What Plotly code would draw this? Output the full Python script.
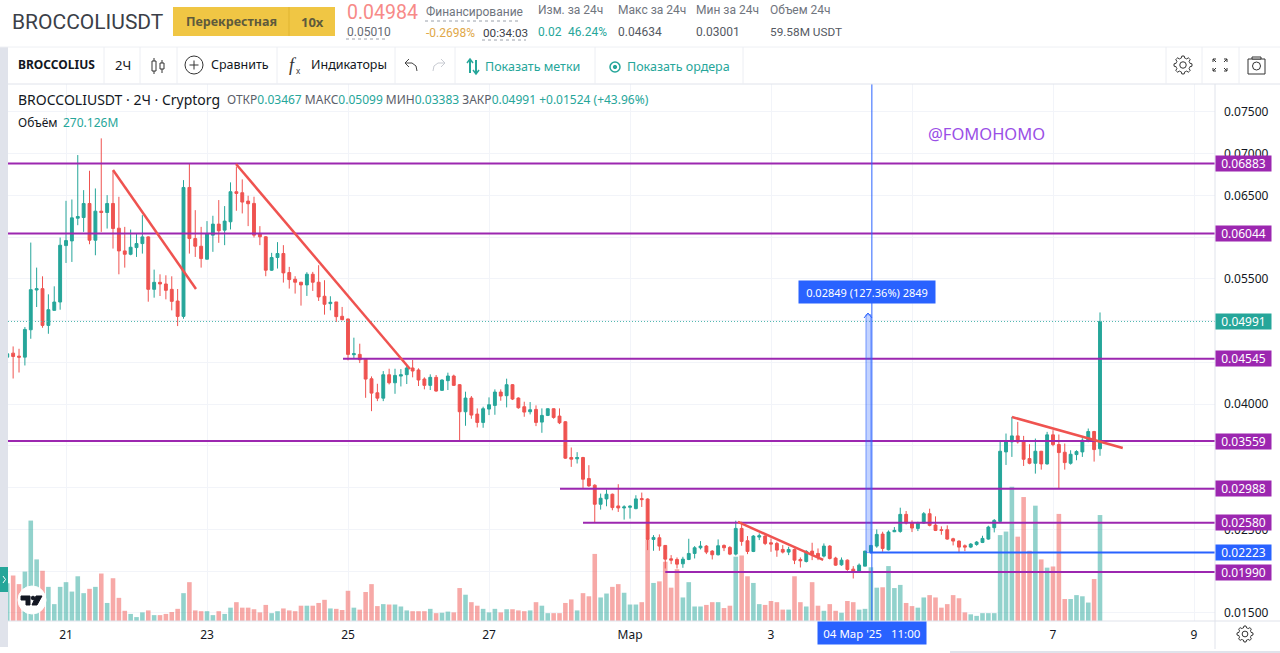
import math
import pandas as pd
import plotly.graph_objects as go

# ---------- data ----------
START = "2025-02-20 04:00"
open_ = [
0.04564,0.04612,0.04576,0.04564,0.04892,0.05368,0.05384,0.04944,0.05124,0.05224,
0.05900,0.05956,0.06228,0.06236,0.06404,0.05964,0.06312,0.06296,0.06404,0.06108,
0.05836,0.05796,0.05876,0.05924,0.06004,0.05376,0.05460,0.05440,0.05376,0.05236,
0.05052,0.06596,0.05984,0.05892,0.05737,0.06025,0.06157,0.06085,0.06185,0.06545,
0.06533,0.06433,0.06405,0.06045,0.06005,0.05605,0.05757,0.05805,0.05577,0.05497,
0.05461,0.05429,0.05557,0.05461,0.05293,0.05205,0.05225,0.05053,0.05021,0.04593,
0.04597,0.04545,0.04305,0.04137,0.04073,0.04353,0.04257,0.04337,0.04354,0.04434,
0.04410,0.04302,0.04226,0.04322,0.04166,0.04282,0.04338,0.04234,0.03910,0.04074,
0.03882,0.03782,0.03942,0.03986,0.04146,0.04102,0.04234,0.04074,0.03970,0.03910,
0.03938,0.03786,0.03866,0.03946,0.03858,0.03790,0.03362,0.03346,0.03362,0.03110,
0.03030,0.02802,0.02866,0.02922,0.02782,0.02758,0.02766,0.02750,0.02870,0.02865,
0.02381,0.02401,0.02309,0.02149,0.02141,0.02089,0.02141,0.02213,0.02281,0.02301,
0.02241,0.02197,0.02309,0.02285,0.02205,0.02513,0.02365,0.02237,0.02409,0.02421,
0.02341,0.02333,0.02261,0.02229,0.02261,0.02141,0.02117,0.02241,0.02213,0.02181,
0.02301,0.02157,0.02077,0.02133,0.02025,0.02001,0.02061,0.02229,0.02301,0.02445,
0.02257,0.02473,0.02477,0.02681,0.02581,0.02513,0.02577,0.02689,0.02553,0.02497,
0.02497,0.02389,0.02361,0.02305,0.02289,0.02321,0.02345,0.02385,0.02521,0.02597,
0.03429,0.03549,0.03621,0.03557,0.03349,0.03293,0.03437,0.03285,0.03633,0.03517,
0.03425,0.03293,0.03397,0.03429,0.03561,0.03673,0.03467]
high = [
0.04624,0.04692,0.04664,0.04924,0.05936,0.05636,0.05532,0.05316,0.05412,0.05996,
0.06436,0.06452,0.06984,0.06564,0.06796,0.06584,0.07184,0.06504,0.06796,0.06484,
0.06124,0.06092,0.06044,0.06264,0.06012,0.05612,0.05556,0.05544,0.05532,0.05380,
0.06684,0.06884,0.06324,0.06124,0.06193,0.06257,0.06445,0.06373,0.06657,0.06845,
0.06693,0.06497,0.06485,0.06133,0.06013,0.05813,0.05941,0.05905,0.05645,0.05533,
0.05465,0.05581,0.05585,0.05665,0.05485,0.05293,0.05225,0.05165,0.05025,0.04797,
0.04725,0.04545,0.04333,0.04245,0.04397,0.04425,0.04425,0.04421,0.04470,0.04530,
0.04430,0.04322,0.04358,0.04350,0.04298,0.04378,0.04354,0.04242,0.04150,0.04098,
0.03950,0.03970,0.04082,0.04178,0.04178,0.04306,0.04242,0.04082,0.04030,0.04026,
0.03986,0.03950,0.03950,0.03950,0.03950,0.03798,0.03482,0.03426,0.03370,0.03270,
0.03042,0.02930,0.02978,0.02930,0.03042,0.02790,0.02790,0.02910,0.02942,0.02873,
0.02433,0.02441,0.02313,0.02193,0.02165,0.02173,0.02389,0.02301,0.02361,0.02313,
0.02253,0.02381,0.02321,0.02301,0.02605,0.02593,0.02421,0.02433,0.02453,0.02433,
0.02393,0.02353,0.02313,0.02293,0.02273,0.02165,0.02253,0.02341,0.02273,0.02333,
0.02313,0.02173,0.02165,0.02141,0.02061,0.02093,0.02245,0.02313,0.02501,0.02473,
0.02489,0.02529,0.02761,0.02721,0.02609,0.02593,0.02709,0.02749,0.02657,0.02537,
0.02549,0.02401,0.02369,0.02321,0.02337,0.02361,0.02425,0.02545,0.02625,0.03569,
0.03649,0.03849,0.03789,0.03621,0.03521,0.03589,0.03441,0.03669,0.03689,0.03637,
0.03529,0.03449,0.03449,0.03593,0.03709,0.03681,0.05099]
low = [
0.04524,0.04308,0.04380,0.04464,0.04784,0.05164,0.04916,0.04844,0.05124,0.05132,
0.05692,0.05704,0.06144,0.06064,0.05916,0.05784,0.06064,0.06104,0.05864,0.05556,
0.05636,0.05784,0.05764,0.05804,0.05228,0.05276,0.05296,0.05256,0.05124,0.04936,
0.05024,0.05804,0.05764,0.05636,0.05737,0.05825,0.05933,0.05905,0.06093,0.06317,
0.06285,0.06133,0.05997,0.05905,0.05533,0.05597,0.05625,0.05457,0.05385,0.05325,
0.05181,0.05297,0.05357,0.05237,0.05073,0.05125,0.04985,0.05005,0.04525,0.04545,
0.04493,0.04077,0.03917,0.04037,0.04037,0.04237,0.04125,0.04213,0.04242,0.04322,
0.04218,0.04178,0.04170,0.04150,0.04162,0.04170,0.04218,0.03570,0.03742,0.03826,
0.03722,0.03718,0.03870,0.03874,0.04042,0.03962,0.04050,0.03946,0.03850,0.03878,
0.03738,0.03658,0.03858,0.03826,0.03762,0.03346,0.03250,0.03290,0.02990,0.03010,
0.02582,0.02738,0.02778,0.02730,0.02710,0.02618,0.02630,0.02742,0.02770,0.02253,
0.02245,0.02245,0.02033,0.02085,0.02033,0.02041,0.02133,0.02153,0.02261,0.02205,
0.02141,0.02189,0.02241,0.02193,0.02189,0.02305,0.02205,0.02229,0.02373,0.02313,
0.02233,0.02173,0.02213,0.02193,0.02085,0.02045,0.02105,0.02133,0.02133,0.02165,
0.02141,0.02065,0.02065,0.02005,0.01913,0.01993,0.02061,0.02213,0.02281,0.02233,
0.02249,0.02469,0.02461,0.02561,0.02469,0.02481,0.02569,0.02537,0.02481,0.02437,
0.02377,0.02309,0.02221,0.02241,0.02277,0.02305,0.02337,0.02377,0.02465,0.02589,
0.03273,0.03369,0.03529,0.03261,0.03281,0.03169,0.03217,0.03277,0.03497,0.02989,
0.03217,0.03277,0.03329,0.03369,0.03545,0.03313,0.03383]
close = [
0.04604,0.04572,0.04564,0.04896,0.05372,0.05384,0.04944,0.05132,0.05224,0.05904,
0.05960,0.06232,0.06248,0.06404,0.05964,0.06312,0.06296,0.06404,0.06104,0.05836,
0.05796,0.05880,0.05924,0.06004,0.05376,0.05460,0.05440,0.05364,0.05232,0.05052,
0.06596,0.05984,0.05892,0.05744,0.06045,0.06157,0.06077,0.06193,0.06545,0.06525,
0.06421,0.06401,0.06025,0.06005,0.05605,0.05757,0.05805,0.05573,0.05493,0.05461,
0.05429,0.05557,0.05461,0.05285,0.05197,0.05221,0.05049,0.05013,0.04597,0.04605,
0.04533,0.04301,0.04133,0.04073,0.04353,0.04257,0.04345,0.04353,0.04434,0.04398,
0.04290,0.04226,0.04322,0.04158,0.04290,0.04338,0.04226,0.03910,0.04074,0.03870,
0.03782,0.03946,0.03994,0.04146,0.04098,0.04234,0.04062,0.03958,0.03906,0.03934,
0.03782,0.03866,0.03946,0.03842,0.03778,0.03354,0.03342,0.03362,0.03102,0.03022,
0.02802,0.02874,0.02922,0.02762,0.02758,0.02770,0.02778,0.02866,0.02858,0.02381,
0.02405,0.02301,0.02145,0.02133,0.02085,0.02145,0.02213,0.02281,0.02301,0.02229,
0.02197,0.02305,0.02281,0.02205,0.02513,0.02357,0.02237,0.02421,0.02425,0.02333,
0.02325,0.02253,0.02229,0.02261,0.02133,0.02125,0.02237,0.02205,0.02173,0.02301,
0.02153,0.02073,0.02133,0.02021,0.01993,0.02073,0.02241,0.02309,0.02441,0.02273,
0.02469,0.02489,0.02681,0.02577,0.02517,0.02577,0.02689,0.02549,0.02489,0.02489,
0.02385,0.02361,0.02289,0.02289,0.02325,0.02349,0.02393,0.02529,0.02609,0.03437,
0.03557,0.03621,0.03549,0.03341,0.03293,0.03437,0.03285,0.03633,0.03517,0.03421,
0.03301,0.03401,0.03433,0.03569,0.03673,0.03457,0.04991]
volume_m = [
96,116,94,126,256,157,128,87,43,87,
99,75,114,71,82,87,121,46,109,59,
26,18,10,22,27,15,15,18,23,31,
71,99,27,25,25,15,25,18,34,48,
34,34,30,22,41,20,25,32,27,25,
39,39,39,46,54,32,31,28,77,34,
29,74,94,38,43,42,42,37,27,25,
25,25,31,20,21,24,22,84,67,48,
39,31,22,31,22,30,30,27,25,27,
48,39,20,20,20,46,55,27,71,63,
171,60,70,87,94,72,42,42,48,207,
97,101,151,85,132,60,99,37,37,41,
48,48,33,39,164,167,114,97,43,41,
51,48,29,29,114,48,37,99,39,26,
43,26,21,51,48,29,31,137,85,86,
140,84,92,46,38,34,60,66,60,34,
43,66,58,22,17,13,20,20,20,219,
228,342,215,316,179,294,157,136,139,273,
56,56,66,63,47,107,270.126]

# horizontal levels: (price, first time drawn)
level_prices = [0.06883, 0.06044, 0.04545, 0.03559, 0.02988, 0.02580, 0.01990]
level_starts = ["2025-02-20 04:15", "2025-02-20 04:15", "2025-02-24 22:18", "2025-02-20 04:15",
                "2025-02-28 00:10", "2025-02-28 08:00", "2025-03-01 12:00"]
blue_level = 0.02223
blue_level_start = "2025-03-04 09:36"
last_price = 0.04991

trend_x = [["2025-02-21 16:00", "2025-02-22 20:15"],
           ["2025-02-23 09:52", "2025-02-25 21:06"],
           ["2025-03-02 12:46", "2025-03-03 17:46"],
           ["2025-03-06 10:02", "2025-03-07 23:45"]]
trend_y = [[0.06805, 0.05380], [0.06877, 0.04422], [0.02590, 0.02135], [0.03847, 0.03476]]

measure_x = ["2025-03-04 08:20", "2025-03-04 10:00"]
measure_y = [0.02223, 0.05072]
cross_x = "2025-03-04 10:20"

# grid positions; labels hidden in the reference by the price and date tags stay blank
x_tickvals = ["2025-02-21", "2025-02-23", "2025-02-25", "2025-02-27", "2025-03-01",
              "2025-03-03", "2025-03-05", "2025-03-07", "2025-03-09"]
x_ticktext = ["21", "23", "25", "27", "Мар", "3", "", "7", "9"]
y_tickvals = [0.015, 0.02, 0.025, 0.03, 0.035, 0.04, 0.045, 0.05, 0.055, 0.06, 0.065, 0.07, 0.075]
y_ticktext = ["0.01500", "", "0.02500", "", "", "0.04000", "", "", "0.05500", "", "0.06500", "0.07000", "0.07500"]

X_RANGE = ["2025-02-20 04:15", "2025-03-09 07:09"]
PRICE_RANGE = [0.01404, 0.07835]
VOL_RANGE = [0, 1369]

# ---------- styling ----------
W, H = 1280, 653
GREEN, RED, PURPLE, BLUE = "#26a69a", "#ef5350", "#9c27b0", "#2962ff"
GRID = "#f2f4f9"
BORDER = "#e0e3eb"
UI = "Noto Sans"
HEAD = "Roboto"

dates = pd.date_range(START, periods=len(close), freq="2h")
assert len(open_) == len(high) == len(low) == len(close) == len(volume_m)

fig = go.Figure()
fig.add_trace(go.Bar(
    x=dates, y=volume_m, yaxis="y", xaxis="x", hoverinfo="skip", showlegend=False,
    marker=dict(color=[GREEN if c >= o else RED for o, c in zip(open_, close)], line_width=0, opacity=0.5),
))
fig.add_trace(go.Scatter(
    x=X_RANGE, y=[last_price, last_price], yaxis="y2", mode="lines", hoverinfo="skip", showlegend=False,
    line=dict(color="#4fb8ae", width=1, dash="1px 2px"),
))
fig.add_trace(go.Candlestick(
    x=dates, open=open_, high=high, low=low, close=close, yaxis="y2", hoverinfo="skip", showlegend=False,
    increasing=dict(line=dict(color=GREEN, width=1), fillcolor=GREEN),
    decreasing=dict(line=dict(color=RED, width=1), fillcolor=RED),
    whiskerwidth=0,
))
for p, s in zip(level_prices, level_starts):
    fig.add_trace(go.Scatter(x=[s, X_RANGE[1]], y=[p, p], yaxis="y2", mode="lines", hoverinfo="skip",
                             showlegend=False, line=dict(color=PURPLE, width=2)))
fig.add_trace(go.Scatter(x=[blue_level_start, X_RANGE[1]], y=[blue_level, blue_level], yaxis="y2", mode="lines",
                         hoverinfo="skip", showlegend=False, line=dict(color=BLUE, width=2)))
for tx, ty in zip(trend_x, trend_y):
    fig.add_trace(go.Scatter(x=tx, y=ty, yaxis="y2", mode="lines", hoverinfo="skip", showlegend=False,
                             line=dict(color=RED, width=2.5)))
fig.add_trace(go.Scatter(x=[cross_x, cross_x], y=PRICE_RANGE, yaxis="y2", mode="lines", hoverinfo="skip",
                         showlegend=False, line=dict(color=BLUE, width=1)))

shapes, annos = [], []
def px(x): return x / W
def py(y): return 1 - y / H
def rect(x0, y0, x1, y1, fill, line=None, lw=1):
    shapes.append(dict(type="rect", xref="paper", yref="paper", x0=px(x0), x1=px(x1), y0=py(y0), y1=py(y1),
                       fillcolor=fill, line=dict(color=line or fill, width=lw if line else 0)))
def seg(x0, y0, x1, y1, color=BORDER, lw=1, dash=None):
    shapes.append(dict(type="line", xref="paper", yref="paper", x0=px(x0), x1=px(x1), y0=py(y0), y1=py(y1),
                       line=dict(color=color, width=lw, dash=dash or "solid")))
def circ(cx, cy, r, fill="rgba(0,0,0,0)", line="#333", lw=1):
    shapes.append(dict(type="circle", xref="paper", yref="paper", x0=px(cx - r), x1=px(cx + r), y0=py(cy - r),
                       y1=py(cy + r), fillcolor=fill, line=dict(color=line, width=lw)))
def poly(pts, fill="rgba(0,0,0,0)", line="#333", lw=1, closed=False):
    d = "M " + " L ".join(f"{px(a):.5f} {py(b):.5f}" for a, b in pts) + (" Z" if closed else "")
    shapes.append(dict(type="path", xref="paper", yref="paper", path=d, fillcolor=fill,
                       line=dict(color=line, width=lw)))
def txt(x, y, s, size=12, color="#131722", anchor="left", family=UI, **kw):
    annos.append(dict(xref="paper", yref="paper", x=px(x), y=py(y), text=s, showarrow=False, xanchor=anchor,
                      yanchor="middle", align=anchor,
                      font=dict(size=size, color=color, family=family), borderpad=0, **kw))

# measuring band, in data coordinates
shapes.append(dict(type="rect", xref="x", yref="y2", x0=measure_x[0], x1=measure_x[1], y0=measure_y[0], y1=measure_y[1],
                   fillcolor="rgba(41,98,255,0.28)", line=dict(color="rgba(41,98,255,0.6)", width=1)))
# left grey strip, handle, logo
rect(0, 47, 8, 647, "#e0e3eb")
rect(0, 567, 8, 592, GREEN)
poly([(3, 576), (5.5, 579.5), (3, 583)], line="#ffffff", lw=1)
circ(32, 600, 14, fill="#ffffff", line="#ffffff")
poly([(21, 596), (30, 596), (30, 605), (26, 605), (26, 600), (21, 600)], fill="#131722", line="#131722", closed=True)
circ(33, 598, 1.8, fill="#131722", line="#131722")
poly([(36, 596), (42, 596), (37, 605), (32, 605)], fill="#131722", line="#131722", closed=True)
# arrow on top of the band
poly([(864, 318), (868, 313), (872, 318)], line=BLUE, lw=1)
# frame
seg(8, 84, 1280, 84)
seg(0, 47, 1280, 47, color="#eef0f4")
seg(1215, 84, 1215, 649)
seg(8, 621, 1280, 621)
seg(950, 652, 1280, 652, lw=2)
for x in [104, 140, 177, 277, 395, 455, 595, 743, 1166, 1202, 1239]:
    seg(x, 47, x, 84, color="#eceef3")

# header
txt(11, 22, "BROCCOLIUSDT", 21, "#3b3f48", family=HEAD)
rect(173, 7, 335, 36, "#f0c644")
seg(289, 7, 289, 36, color="#e0b530")
txt(231, 22, "<b>Перекрестная</b>", 12.5, "#5e5a3c", "center")
txt(312, 22, "<b>10х</b>", 13, "#5e5a3c", "center")
txt(346, 13, "0.04984", 19.5, "#f78a88", family=HEAD)
txt(346, 32, "0.05010", 12, "#666a73", family=HEAD)
seg(346, 39, 386, 39, color="#9aa0aa", dash="dot")
txt(425, 12, "Финансирование", 12, "#70757e", family=HEAD)
seg(425, 21, 521, 21, color="#9aa0aa", dash="dot")
txt(425, 33, "-0.2698%", 12, "#e0a748", family=HEAD)
txt(482, 33, "00:34:03", 11.7, "#3d4149", family=HEAD)
seg(482, 40, 526, 40, color="#9aa0aa", dash="dot")
txt(537, 10, "Изм. за 24ч", 12, "#70757e", family=HEAD)
txt(537, 32, "0.02", 12, GREEN, family=HEAD)
txt(567, 32, "46.24%", 12, GREEN, family=HEAD)
txt(617, 10, "Макс за 24ч", 12, "#70757e", family=HEAD)
txt(617, 32, "0.04634", 12, "#555962", family=HEAD)
txt(695, 10, "Мин за 24ч", 12, "#70757e", family=HEAD)
txt(695, 32, "0.03001", 12, "#555962", family=HEAD)
txt(769, 10, "Объем 24ч", 12, "#70757e", family=HEAD)
txt(769, 32, "59.58M USDT", 11.8, "#555962", family=HEAD)

# toolbar
txt(17, 65, "<b>BROCCOLIUS</b>", 12, "#131722")
txt(114, 65, "2Ч", 13, "#131722")
seg(154, 58, 154, 74, lw=1, color="#333")
rect(152, 61, 156, 71, "#ffffff", "#333")
seg(162, 60, 162, 73, lw=1, color="#333")
rect(160, 63, 164, 69, "#ffffff", "#333")
circ(194, 65, 9)
seg(189.5, 65, 198.5, 65, color="#333")
seg(194, 60.5, 194, 69.5, color="#333")
txt(210, 65, "Сравнить", 12.5, "#131722")
txt(288, 65, "<i>f</i>", 18, "#333", family="Liberation Serif")
txt(295, 71, "x", 8, "#333")
txt(310, 65, "Индикаторы", 12.5, "#131722")
poly([(409, 59), (405, 63), (409, 67)], line="#444")
poly([(405, 63), (412, 63), (416, 66), (417, 71)], line="#444")
poly([(441, 59), (445, 63), (441, 67)], line="#c8cbd2")
poly([(445, 63), (438, 63), (434, 66), (433, 71)], line="#c8cbd2")
seg(470, 60, 470, 73, color=GREEN, lw=2)
poly([(467, 63), (470, 59), (473, 63)], line=GREEN, lw=1.5)
seg(476, 60, 476, 73, color=GREEN, lw=2)
poly([(473, 70), (476, 74), (479, 70)], line=GREEN, lw=1.5)
txt(484, 67, "Показать метки", 12.5, GREEN)
circ(615, 67, 5, line=GREEN, lw=1.5)
circ(615, 67, 1.7, fill=GREEN, line=GREEN)
txt(626, 67, "Показать ордера", 12.5, GREEN)

# gear icons
def gear(cx, cy, r, lw=1):
    pts = []
    for k in range(48):
        a = 2 * math.pi * k / 48
        rr = r if (k % 6) in (0, 1, 5) else r * 0.78
        pts.append((cx + rr * math.cos(a), cy + rr * math.sin(a)))
    poly(pts, line="#333", lw=lw, closed=True)
    circ(cx, cy, r * 0.36, line="#333", lw=lw)
gear(1183, 65, 9)
gear(1245, 634, 8)
# fullscreen corners
for sx, sy in [(-1, -1), (1, -1), (-1, 1), (1, 1)]:
    cx, cy = 1220 + sx * 7, 65 + sy * 6
    poly([(cx - sx * 3, cy), (cx, cy), (cx, cy - sy * 3)], line="#333")
    seg(cx, cy, cx - sx * 3, cy - sy * 3, color="#333")
# camera
rect(1248, 59, 1265, 74, "#ffffff", "#333")
rect(1252, 57, 1261, 59, "#ffffff", "#333")
circ(1256.5, 66, 4)

# chart legend
txt(17, 100, "BROCCOLIUSDT · 2Ч · Cryptorg", 14, "#131722")
G = lambda s: f'<span style="color:{GREEN}">{s}</span>'
txt(226, 100, f"ОТКР{G('0.03467')} МАКС{G('0.05099')} МИН{G('0.03383')} ЗАКР{G('0.04991')} {G('+0.01524 (+43.96%)')}", 12, "#5b6069")
txt(17, 122, "Объём", 12, "#131722")
txt(62, 122, "270.126M", 12, GREEN)
txt(927, 133, "@FOMOHOMO", 16.5, "#9a4fe6")

# price tags
def tag(price, color):
    annos.append(dict(xref="paper", yref="y2", x=px(1215), y=price, text="%.5f" % price, showarrow=False,
                      xanchor="left", yanchor="middle", font=dict(size=12, color="#ffffff", family=UI),
                      bgcolor=color, width=55, height=15, align="center", borderpad=0))
for p in level_prices:
    tag(p, PURPLE)
tag(blue_level, BLUE)
tag(last_price, GREEN)

# measure label and crosshair date tag
txt(867, 292, "0.02849 (127.36%) 2849", 11, "#ffffff", "center", bgcolor=BLUE, width=136, height=22)
txt(872, 633, "04 Мар '25&nbsp;&nbsp;&nbsp;11:00", 11.5, "#ffffff", "center", bgcolor=BLUE, width=108, height=22)

fig.update_layout(
    width=W, height=H, autosize=False, margin=dict(l=0, r=0, t=0, b=0),
    paper_bgcolor="#ffffff", plot_bgcolor="#ffffff", showlegend=False, bargap=0.22, boxgap=0.3,
    hovermode=False, shapes=shapes, annotations=annos,
    xaxis=dict(domain=[8 / W, 1215 / W], type="date", range=X_RANGE, tickmode="array", tickvals=x_tickvals,
               ticktext=x_ticktext, showgrid=True, gridcolor=GRID, gridwidth=1, zeroline=False, showline=False,
               ticks="", ticklabelstandoff=5, tickfont=dict(size=12, color="#131722", family=UI),
               rangeslider=dict(visible=False), fixedrange=True),
    yaxis=dict(domain=[(H - 621) / H, (H - 84) / H], range=VOL_RANGE, showgrid=False, showticklabels=False,
               zeroline=False, showline=False, ticks="", fixedrange=True),
    yaxis2=dict(domain=[(H - 621) / H, (H - 84) / H], overlaying="y", side="right", anchor="x", range=PRICE_RANGE,
                tickmode="array", tickvals=y_tickvals, ticktext=y_ticktext, showgrid=True, gridcolor=GRID,
                gridwidth=1, zeroline=False, showline=False, ticks="", ticklabelstandoff=8,
                tickfont=dict(size=12, color="#131722", family=UI), fixedrange=True),
)

fig.write_html("out.html", config=dict(displayModeBar=False),
               post_script="document.body.style.margin='0';document.body.style.overflow='hidden';")
